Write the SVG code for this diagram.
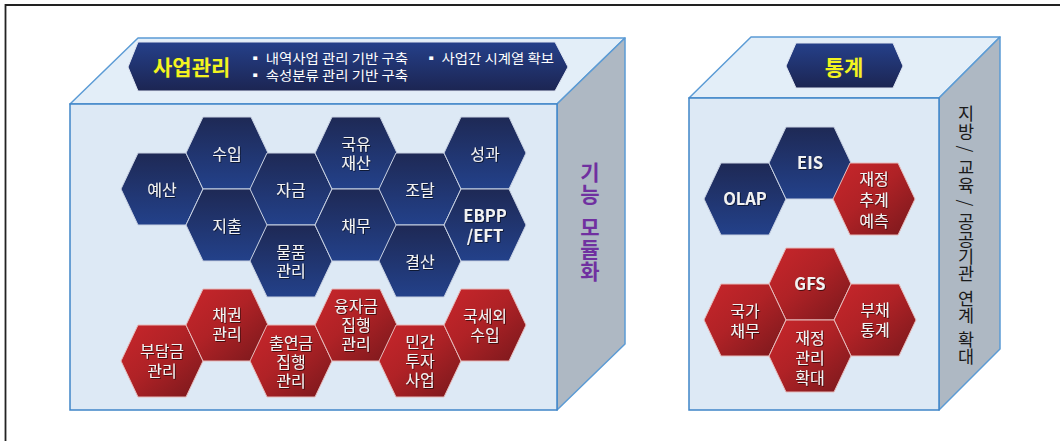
<svg xmlns="http://www.w3.org/2000/svg" xmlns:xlink="http://www.w3.org/1999/xlink" width="1060" height="441" viewBox="0 0 1060 441">
<defs>
<linearGradient id="gBlue" x1="0" y1="0" x2="0" y2="1">
<stop offset="0" stop-color="#1e2955"/>
<stop offset="1" stop-color="#23418a"/>
</linearGradient>
<linearGradient id="gRed" x1="0" y1="0" x2="1" y2="1">
<stop offset="0" stop-color="#c8262b"/>
<stop offset="0.45" stop-color="#b02226"/>
<stop offset="1" stop-color="#78181c"/>
</linearGradient>
<linearGradient id="gBanner" x1="0" y1="0" x2="0" y2="1">
<stop offset="0" stop-color="#25408a"/>
<stop offset="1" stop-color="#1c2552"/>
</linearGradient>
<polygon id="hex" points="-41,0 -24,-36 24,-36 41,0 24,36 -24,36"/>
<filter id="sh" x="-20%" y="-20%" width="140%" height="140%">
<feDropShadow dx="0.8" dy="0.8" stdDeviation="0.4" flood-color="#000" flood-opacity="0.7"/>
</filter>
</defs>
<style>
text{font-family:"Noto Sans CJK KR","Noto Sans",sans-serif;}
.top{fill:#e3eef8;stroke:#5b9bd5;stroke-width:1.5;stroke-linejoin:round}
.front{fill:#dde9f5;stroke:#3f85c8;stroke-width:1.5}
.side{fill:#aeb8c3;stroke:#5b9bd5;stroke-width:1.5;stroke-linejoin:round}
.hb{fill:url(#gBlue);stroke:#c9d2e3;stroke-width:1}
.hr{fill:url(#gRed);stroke:#e6bcbc;stroke-width:1}
.banner{fill:url(#gBanner);stroke:#dfe6f2;stroke-width:1}
.lbl{fill:#f2f2f2;font-size:16px;text-anchor:middle;dominant-baseline:central;filter:url(#sh)}
.lat{font-weight:bold;font-size:16.5px}
.title{fill:#f3f320;font-weight:bold;font-size:21px;dominant-baseline:central}
.bul{fill:#ffffff;font-size:13px;dominant-baseline:central}
.vp{fill:#7030a0;font-size:21px;font-weight:bold;text-anchor:middle;writing-mode:vertical-rl}
.vk{fill:#1a1a1a;font-size:17.5px;text-anchor:middle;writing-mode:vertical-rl}
</style>
<rect width="1060" height="441" fill="#ffffff"/>
<path d="M5.5,441 V5 H1060" fill="none" stroke="#222" stroke-width="1.8"/>

<g id="box-left">
<polygon class="top" points="70,104 138,38 625,38 557,104"/>
<polygon class="side" points="557,104 625,38 625,344 557,410"/>
<rect class="front" x="70" y="104" width="487" height="306"/>
</g>
<g id="box-right">
<polygon class="top" points="689,98 751,37 1000,37 939,98"/>
<polygon class="side" points="939,98 1000,37 1000,349 939,410"/>
<rect class="front" x="689" y="98" width="250" height="312"/>
</g>

<g id="banner-saeop">
<polygon class="banner" points="128,67 138,42 555,42 568,67 555,91 138,91"/>
<text class="title" x="153" y="66">사업관리</text>
<text class="bul" x="248" y="57" textLength="160" lengthAdjust="spacingAndGlyphs">▪ 내역사업 관리 기반 구축</text>
<text class="bul" x="248" y="74" textLength="160" lengthAdjust="spacingAndGlyphs">▪ 속성분류 관리 기반 구축</text>
<text class="bul" x="424" y="57" textLength="130" lengthAdjust="spacingAndGlyphs">▪ 사업간 시계열 확보</text>
</g>
<g id="banner-stat">
<polygon class="banner" points="786,66 796,43 893,43 903,66 893,88 796,88"/>
<text class="title" x="844" y="66" text-anchor="middle">통계</text>
</g>

<g id="side-left-label">
<text class="vp" x="590" y="172 194 210 227 249 271">기능 모듈화</text>
</g>
<g id="side-right-label">
<text class="vk" x="966" y="113 131 149 167 185 203 221 239 256 273 285 298 315 327 339 356">지방/교육/공공기관 연계 확대</text>
</g>

<g id="connectors"/>

<g id="n-yesan"><use xlink:href="#hex" class="hb" x="162" y="189"/><text class="lbl" x="162" y="189">예산</text></g>
<g id="n-suip"><use xlink:href="#hex" class="hb" x="227" y="153"/><text class="lbl" x="227" y="153">수입</text></g>
<g id="n-jichul"><use xlink:href="#hex" class="hb" x="227" y="225"/><text class="lbl" x="227" y="225">지출</text></g>
<g id="n-jageum"><use xlink:href="#hex" class="hb" x="291" y="189"/><text class="lbl" x="291" y="189">자금</text></g>
<g id="n-mulpum"><use xlink:href="#hex" class="hb" x="291" y="261"/><text class="lbl"><tspan x="291" y="251">물품</tspan><tspan x="291" y="270">관리</tspan></text></g>
<g id="n-gukyu"><use xlink:href="#hex" class="hb" x="356" y="153"/><text class="lbl"><tspan x="356" y="143">국유</tspan><tspan x="356" y="162">재산</tspan></text></g>
<g id="n-chaemu"><use xlink:href="#hex" class="hb" x="356" y="225"/><text class="lbl" x="356" y="225">채무</text></g>
<g id="n-jodal"><use xlink:href="#hex" class="hb" x="420" y="189"/><text class="lbl" x="420" y="189">조달</text></g>
<g id="n-gyeolsan"><use xlink:href="#hex" class="hb" x="420" y="261"/><text class="lbl" x="420" y="261">결산</text></g>
<g id="n-seonggwa"><use xlink:href="#hex" class="hb" x="485" y="153"/><text class="lbl" x="485" y="153">성과</text></g>
<g id="n-ebpp"><use xlink:href="#hex" class="hb" x="485" y="225"/><text class="lbl lat"><tspan x="485" y="215">EBPP</tspan><tspan x="485" y="235">/EFT</tspan></text></g>

<g id="n-budamgeum"><use xlink:href="#hex" class="hr" x="162" y="361"/><text class="lbl"><tspan x="162" y="350">부담금</tspan><tspan x="162" y="370">관리</tspan></text></g>
<g id="n-chaegwon"><use xlink:href="#hex" class="hr" x="227" y="325"/><text class="lbl"><tspan x="227" y="314">채권</tspan><tspan x="227" y="333">관리</tspan></text></g>
<g id="n-chulyeongeum"><use xlink:href="#hex" class="hr" x="291" y="361"/><text class="lbl"><tspan x="291" y="342">출연금</tspan><tspan x="291" y="361">집행</tspan><tspan x="291" y="380">관리</tspan></text></g>
<g id="n-yungjageum"><use xlink:href="#hex" class="hr" x="356" y="325"/><text class="lbl"><tspan x="356" y="305">융자금</tspan><tspan x="356" y="324">집행</tspan><tspan x="356" y="343">관리</tspan></text></g>
<g id="n-mingan"><use xlink:href="#hex" class="hr" x="420" y="361"/><text class="lbl"><tspan x="420" y="341">민간</tspan><tspan x="420" y="360">투자</tspan><tspan x="420" y="379">사업</tspan></text></g>
<g id="n-gukseoe"><use xlink:href="#hex" class="hr" x="485" y="325"/><text class="lbl"><tspan x="485" y="315">국세외</tspan><tspan x="485" y="334">수입</tspan></text></g>

<g id="n-olap"><use xlink:href="#hex" class="hb" x="745" y="199"/><text class="lbl lat" x="745" y="198">OLAP</text></g>
<g id="n-eis"><use xlink:href="#hex" class="hb" x="810" y="163"/><text class="lbl lat" x="810" y="162">EIS</text></g>
<g id="n-chugye"><use xlink:href="#hex" class="hr" x="874" y="199"/><text class="lbl"><tspan x="874" y="178">재정</tspan><tspan x="874" y="199">추계</tspan><tspan x="874" y="220">예측</tspan></text></g>
<g id="n-gfs"><use xlink:href="#hex" class="hr" x="810" y="284"/><text class="lbl lat" x="810" y="283">GFS</text></g>
<g id="n-gukga"><use xlink:href="#hex" class="hr" x="745" y="320"/><text class="lbl"><tspan x="745" y="310">국가</tspan><tspan x="745" y="330">채무</tspan></text></g>
<g id="n-buchae"><use xlink:href="#hex" class="hr" x="875" y="320"/><text class="lbl"><tspan x="875" y="309">부채</tspan><tspan x="875" y="329">통계</tspan></text></g>
<g id="n-jaejeong"><use xlink:href="#hex" class="hr" x="810" y="356"/><text class="lbl"><tspan x="810" y="337">재정</tspan><tspan x="810" y="357">관리</tspan><tspan x="810" y="377">확대</tspan></text></g>
</svg>
